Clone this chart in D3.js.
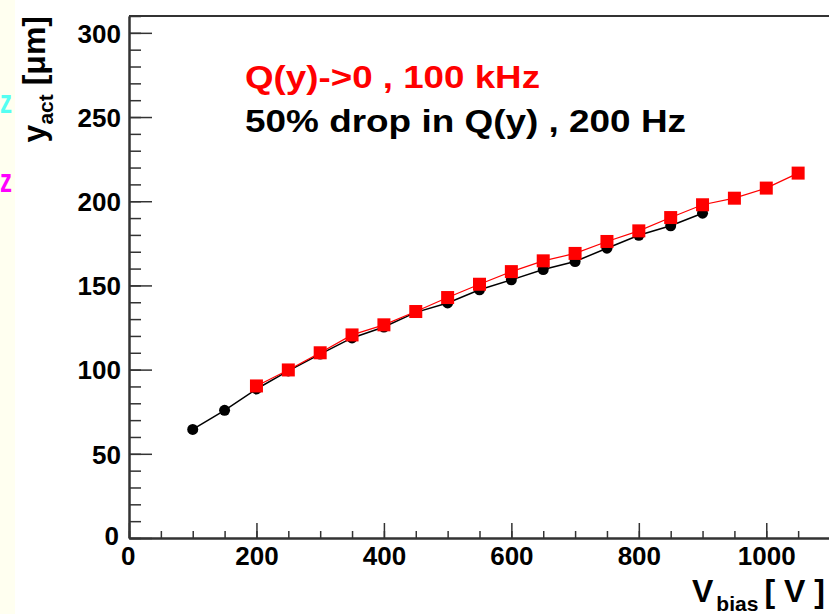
<!DOCTYPE html>
<html>
<head>
<meta charset="utf-8">
<script src="https://cdn.jsdelivr.net/npm/d3@7"></script>
<style>
  body { margin: 0; background: #fff; }
  svg { display: block; font-family: "Liberation Sans", Arial, Helvetica, sans-serif; font-weight: bold; }
</style>
</head>
<body>
<svg id="chart" width="829" height="614"></svg>
<script>
// values
var vbias = [100, 150, 200, 250, 300, 350, 400, 450, 500, 550, 600, 650, 700, 750, 800, 850, 900, 950, 1000, 1050];
var yHalf = [64.5, 75.8, 88.5, 99.2, 109.2, 118.8, 125.3, 134.0, 139.6, 147.4, 153.3, 159.4, 164.2, 172.1, 179.8, 185.4, 192.9];   // 50% drop, 200 Hz (100..900)
var yZero = [90.3, 99.8, 110.0, 120.6, 126.6, 134.5, 142.8, 150.7, 158.2, 164.6, 169.0, 176.1, 182.4, 190.3, 197.9, 201.8, 207.8, 216.7];   // Q->0, 100 kHz (200..1050)
var xMajor = [0, 200, 400, 600, 800, 1000];
var yMajor = [0, 50, 100, 150, 200, 250, 300];

var svg = d3.select("#chart");

var x = d3.scaleLinear().domain([0, 1100]).range([129, 830]);
var y = d3.scaleLinear().domain([0, 310]).range([538, 16]);

var half = yHalf.map(function(v, i) { return {v: vbias[i], y: v}; });
var zero = yZero.map(function(v, i) { return {v: vbias[i + 2], y: v}; });

// pale strip on the left edge (from the slide behind)
svg.append("rect").attr("x", 0).attr("y", 0).attr("width", 15).attr("height", 614).attr("fill", "#fffff0");
svg.append("text").attr("x", 0).attr("y", 113).attr("font-size", 34).attr("fill", "#55fff2")
  .attr("textLength", 12).attr("lengthAdjust", "spacingAndGlyphs").text("z");
svg.append("text").attr("x", 0).attr("y", 192).attr("font-size", 34).attr("fill", "#ff00ff")
  .attr("textLength", 12).attr("lengthAdjust", "spacingAndGlyphs").text("z");

// frame top
svg.append("line").attr("x1", 129).attr("x2", 830).attr("y1", 16).attr("y2", 16)
  .attr("stroke", "#333").attr("stroke-width", 2);

// y axis
svg.append("g").attr("transform", "translate(129,0)")
  .call(d3.axisLeft(y).tickValues(d3.range(0, 311, 10)).tickSizeInner(-12).tickSizeOuter(0).tickFormat(""));
var yAx = svg.append("g").attr("transform", "translate(129,0)")
  .call(d3.axisLeft(y).tickValues(yMajor).tickSizeInner(-23).tickSizeOuter(0).tickFormat(d3.format("d")));

// x axis
svg.append("g").attr("transform", "translate(0,538)")
  .call(d3.axisBottom(x).tickValues(d3.range(0, 1101, 50)).tickSizeInner(-7).tickSizeOuter(0).tickFormat(""));
var xAx = svg.append("g").attr("transform", "translate(0,538)")
  .call(d3.axisBottom(x).tickValues(xMajor).tickSizeInner(-15).tickSizeOuter(0).tickFormat(d3.format("d")));

svg.selectAll(".domain").attr("stroke", "#333").attr("stroke-width", 2);
svg.selectAll(".tick line").attr("stroke", "#333").attr("stroke-width", 1.5);
svg.selectAll("g").attr("font-family", null).attr("font-size", null);
yAx.selectAll("text").attr("font-size", 26).attr("fill", "#000").attr("dy", "0.36em").attr("x", -8);
xAx.selectAll("text").attr("font-size", 26).attr("fill", "#000").attr("dy", "0.71em").attr("y", 9);
// ROOT style zeros
yAx.selectAll(".tick").filter(function(d) { return d === 0; }).select("text").attr("dy", "0.25em").attr("x", -10);
xAx.selectAll(".tick").filter(function(d) { return d === 0; }).select("text").attr("dx", "-0.05em");

// data lines
var line = d3.line().x(function(d) { return x(d.v); }).y(function(d) { return y(d.y); });

svg.append("path").datum(half).attr("d", line).attr("fill", "none").attr("stroke", "#000").attr("stroke-width", 1.5);
svg.append("g").selectAll("circle").data(half).enter().append("circle")
  .attr("cx", function(d) { return x(d.v); })
  .attr("cy", function(d) { return y(d.y); })
  .attr("r", 5.5).attr("fill", "#000");

svg.append("path").datum(zero).attr("d", line).attr("fill", "none").attr("stroke", "#ff0000").attr("stroke-width", 1.2);
svg.append("g").selectAll("rect").data(zero).enter().append("rect")
  .attr("x", function(d) { return x(d.v) - 6.5; })
  .attr("y", function(d) { return y(d.y) - 6.5; })
  .attr("width", 13).attr("height", 13).attr("fill", "#ff0000");

// legend text
svg.append("text").attr("x", 245).attr("y", 88).attr("font-size", 31).attr("fill", "#ff0000")
  .attr("textLength", 295).attr("lengthAdjust", "spacingAndGlyphs").text("Q(y)->0 , 100 kHz");
svg.append("text").attr("x", 245).attr("y", 132).attr("font-size", 31).attr("fill", "#000")
  .attr("textLength", 441).attr("lengthAdjust", "spacingAndGlyphs").text("50% drop in Q(y) , 200 Hz");

// axis titles
var xt = svg.append("text").attr("x", 692).attr("y", 602).attr("font-size", 32).attr("fill", "#000");
xt.append("tspan").text("V");
xt.append("tspan").attr("font-size", 21).attr("dy", 9).attr("dx", 3).text("bias");
xt.append("tspan").attr("dy", -9).attr("dx", 6).text("[ V ]");

var yt = svg.append("text").attr("transform", "translate(45,16) rotate(-90)")
  .attr("text-anchor", "end").attr("font-size", 32).attr("fill", "#000");
yt.append("tspan").text("y");
yt.append("tspan").attr("font-size", 21).attr("dy", 8).text("act");
yt.append("tspan").attr("dy", -8).text(" [\u03bcm]");
</script>
</body>
</html>
